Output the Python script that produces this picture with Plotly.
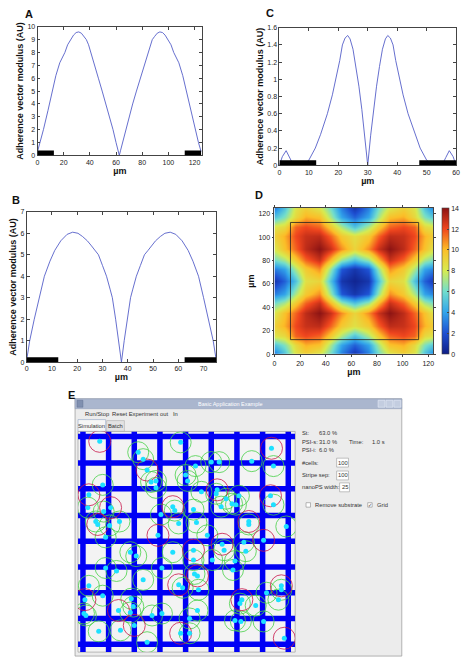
import plotly.graph_objects as go

W, H = 466, 665
def fx(x): return x / W
def fy(y): return 1 - y / H

FONT = "Liberation Sans, Arial, sans-serif"
GUI = "Liberation Sans, Arial, sans-serif"
LINE = "rgb(85,95,200)"

# ---------------- Panel A ----------------
A_x = [0, 2, 4.5, 8, 11.3, 14, 17, 20.9, 23, 25.2, 27.5, 29.5, 31.5, 33.5, 35.5, 37.3, 39, 40.6, 43.6, 46.5,
       49.4, 52.3, 55, 57.7, 60, 61.5, 62.5,
       63.5, 65, 67.3, 70, 72.7, 75.6, 78.5, 81.4, 84.4, 86, 87.7, 89.5, 91.5, 93.5, 95.5, 97.5, 99.8, 102,
       104.1, 108, 111, 113.7, 117, 120.5, 123, 125]
A_y = [0.3, 1.0, 2, 3.5, 5, 6.2, 7.2, 8, 8.6, 9, 9.35, 9.55, 9.6, 9.5, 9.25, 9, 8.6, 8, 7, 6,
       5, 4, 3, 2, 1, 0.4, 0,
       0.4, 1, 2, 3, 4, 5, 6, 7, 8, 8.6, 9, 9.25, 9.5, 9.6, 9.55, 9.35, 9, 8.6,
       8, 7.2, 6.2, 5, 3.5, 2, 1.0, 0.3]
A_stripes = [[0, 12.5], [112.5, 125]]

# ---------------- Panel B ----------------
B_x = [0, 1.2, 3, 5, 7, 9.2, 11.1, 13.5, 16, 18.2, 20.3, 22.1, 24, 25.4, 27, 28.4, 30, 31.6, 33, 33.9,
       35.2, 36.4, 37.5,
       38.6, 39.8, 41.1, 42, 43.4, 45, 46.6, 48, 49.6, 51, 52.9, 54.7, 56.8, 59, 61.5, 63.9, 65.8, 68,
       70, 72, 73.8, 75]
B_y = [0.1, 1, 2, 3, 4, 4.7, 5.2, 5.65, 5.95, 6.05, 6.0, 5.85, 5.65, 5.45, 5.2, 5.0, 4.5, 4.0, 3.4, 3.0,
       2.0, 1.0, 0,
       1.0, 2.0, 3.0, 3.4, 4.0, 4.5, 5.0, 5.2, 5.45, 5.65, 5.85, 6.0, 6.05, 5.95, 5.65, 5.2, 4.7, 4,
       3, 2, 1, 0.1]
B_stripes = [[0, 12.5], [62.5, 75]]

# ---------------- Panel C ----------------
C_x = [0, 1, 2.3, 3.5, 4.5, 6, 8, 10, 12.2, 14, 16.3, 18, 19.2, 20.5, 21.4, 22.3, 23.2, 24, 25, 26, 27,
       28, 29, 30,
       31, 32, 33, 34, 35, 36, 36.8, 37.7, 38.6, 39.5, 40.8, 42, 43.7, 46, 47.8, 50, 52, 54, 55.5, 56.5,
       57.7, 59, 60]
C_y = [0, 0.1, 0.17, 0.09, 0.02, 0, 0, 0.06, 0.2, 0.36, 0.6, 0.82, 1.0, 1.22, 1.4, 1.48, 1.51, 1.47,
       1.35, 1.15, 0.92, 0.65, 0.35, 0,
       0.35, 0.65, 0.92, 1.15, 1.35, 1.47, 1.51, 1.48, 1.4, 1.22, 1.0, 0.82, 0.6, 0.36, 0.2, 0.06, 0, 0,
       0.02, 0.09, 0.17, 0.1, 0]
C_stripes = [[0, 12.5], [47.5, 60]]

# ---------------- Panel D ----------------
D_x = [0, 8, 16, 24, 35, 44, 52, 62.5, 73, 81, 90, 101, 109, 117, 125]
D_y = [0, 8, 16, 24, 35, 44, 52, 62.5, 73, 81, 90, 101, 109, 117, 125]
D_z = [
    [3.0, 5.0, 8.3, 9.2, 8.2, 6.0, 3.1, 1.0, 3.1, 6.0, 8.2, 9.2, 8.3, 5.0, 3.0],
    [5.0, 6.3, 8.8, 10.2, 9.8, 7.1, 4.0, 2.4, 4.0, 7.1, 9.8, 10.2, 8.8, 6.3, 5.0],
    [8.3, 8.8, 11.5, 12.0, 11.5, 9.5, 7.2, 5.0, 7.2, 9.5, 11.5, 12.0, 11.5, 8.8, 8.3],
    [9.2, 10.2, 12.0, 12.8, 13.0, 11.5, 9.5, 8.5, 9.5, 11.5, 13.0, 12.8, 12.0, 10.2, 9.2],
    [8.2, 9.8, 11.5, 13.0, 14.0, 12.8, 10.8, 9.0, 10.8, 12.8, 14.0, 13.0, 11.5, 9.8, 8.2],
    [6.0, 7.1, 9.5, 11.5, 12.8, 10.0, 6.8, 5.0, 6.8, 10.0, 12.8, 11.5, 9.5, 7.1, 6.0],
    [3.1, 4.0, 7.2, 9.5, 10.8, 6.8, 2.2, 1.0, 2.2, 6.8, 10.8, 9.5, 7.2, 4.0, 3.1],
    [1.0, 2.4, 5.0, 8.5, 9.0, 5.0, 1.0, 0.3, 1.0, 5.0, 9.0, 8.5, 5.0, 2.4, 1.0],
    [3.1, 4.0, 7.2, 9.5, 10.8, 6.8, 2.2, 1.0, 2.2, 6.8, 10.8, 9.5, 7.2, 4.0, 3.1],
    [6.0, 7.1, 9.5, 11.5, 12.8, 10.0, 6.8, 5.0, 6.8, 10.0, 12.8, 11.5, 9.5, 7.1, 6.0],
    [8.2, 9.8, 11.5, 13.0, 14.0, 12.8, 10.8, 9.0, 10.8, 12.8, 14.0, 13.0, 11.5, 9.8, 8.2],
    [9.2, 10.2, 12.0, 12.8, 13.0, 11.5, 9.5, 8.5, 9.5, 11.5, 13.0, 12.8, 12.0, 10.2, 9.2],
    [8.3, 8.8, 11.5, 12.0, 11.5, 9.5, 7.2, 5.0, 7.2, 9.5, 11.5, 12.0, 11.5, 8.8, 8.3],
    [5.0, 6.3, 8.8, 10.2, 9.8, 7.1, 4.0, 2.4, 4.0, 7.1, 9.8, 10.2, 8.8, 6.3, 5.0],
    [3.0, 5.0, 8.3, 9.2, 8.2, 6.0, 3.1, 1.0, 3.1, 6.0, 8.2, 9.2, 8.3, 5.0, 3.0],
]
D_box = [12.5, 112.5]
D_cbar_ticks = [0, 2, 4, 6, 8, 10, 12, 14]
JET = [[0, "rgb(15,30,135)"], [0.143, "rgb(30,80,210)"], [0.286, "rgb(50,165,235)"],
       [0.43, "rgb(115,222,205)"], [0.571, "rgb(215,235,80)"], [0.714, "rgb(252,190,40)"],
       [0.857, "rgb(240,70,30)"], [1, "rgb(140,20,20)"]]

# ---------------- Panel E (screenshot coordinates) ----------------
E_vlines = [82, 108, 134, 160, 186, 212, 238, 264, 290]
E_hlines = [437, 464, 490, 517, 543, 569, 595, 621, 647]
E_cell_x = [99, 181, 138, 143, 253, 212, 220, 196, 147, 186, 188, 102, 151, 156, 156, 202, 218, 217, 240, 88,
            227, 233, 237, 222, 87, 110, 173, 175, 194, 103, 161, 95, 97, 109, 119, 179, 197, 250, 250, 158,
            208, 105, 273, 275, 272, 275, 288, 265, 245, 223, 225, 247, 130, 136, 173, 194, 194, 213, 236, 234,
            105, 116, 162, 195, 198, 143, 88, 179, 183, 199, 283, 283, 268, 102, 84, 131, 243, 280, 241, 257,
            133, 118, 130, 198, 162, 152, 83, 85, 190, 236, 242, 265, 134, 120, 98, 181, 190, 286, 147]
E_cell_y = [442, 443, 453, 460, 462, 463, 463, 467, 471, 476, 482, 486, 483, 482, 489, 493, 491, 495, 497, 496,
            500, 505, 506, 508, 509, 509, 508, 512, 511, 513, 516, 523, 526, 527, 523, 525, 524, 523, 526, 537,
            537, 539, 449, 467, 497, 506, 528, 542, 544, 546, 552, 553, 554, 558, 554, 552, 562, 562, 563, 572,
            570, 573, 570, 576, 578, 582, 588, 587, 590, 592, 588, 592, 595, 598, 602, 601, 602, 602, 606, 608,
            609, 613, 615, 613, 616, 618, 616, 618, 621, 623, 624, 624, 628, 633, 634, 636, 636, 641, 645]
E_ring = ["r", "g", "g", "g", "g", "g", "g", "g", "r", "g", "g", "g", "g", "g", "g", "g", "r", "g", "g", "r",
          "g", "g", "g", "g", "g", "r", "r", "g", "g", "g", "g", "g", "r", "g", "g", "g", "g", "r", "g", "r",
          "g", "g", "r", "g", "r", "g", "g", "r", "g", "r", "g", "g", "g", "g", "g", "r", "g", "g", "g", "g",
          "g", "g", "g", "g", "r", "g", "g", "r", "g", "g", "r", "g", "g", "g", "r", "g", "r", "g", "g", "g",
          "g", "r", "g", "g", "g", "g", "g", "g", "g", "g", "g", "g", "r", "g", "g", "r", "g", "r", "g"]
E_stats = [("St:", "63.0 %"), ("PSI-s:", "31.0 %"), ("PSI-i:", "6.0 %")]
E_fields = [("#cells:", "100"), ("Stripe sep:", "100"), ("nanoPS width:", "25")]
E_menu = ["Run/Stop", "Reset Experiment", "out", "In"]

fig = go.Figure()

def curve(x, y, xa, ya):
    fig.add_trace(go.Scatter(x=x, y=y, mode="lines", line=dict(color=LINE, width=0.9),
                             xaxis=xa, yaxis=ya, showlegend=False, hoverinfo="skip"))

curve(A_x, A_y, "x", "y")
curve(B_x, B_y, "x2", "y2")
curve(C_x, C_y, "x3", "y3")

fig.add_trace(go.Heatmap(
    x=D_x, y=D_y, z=D_z, colorscale=JET, zmin=0, zmax=14, zsmooth="best",
    xaxis="x4", yaxis="y4", hoverinfo="skip",
    colorbar=dict(x=fx(446), xanchor="left", y=fy(354), yanchor="bottom", len=148 / H, lenmode="fraction",
                  thickness=7, thicknessmode="pixels", outlinewidth=0.6, outlinecolor="#444",
                  tickvals=D_cbar_ticks, ticks="inside", ticklen=2, tickcolor="#444",
                  tickfont=dict(size=7, color="#222", family=FONT), xpad=0, ypad=0)))

# Panel E grid stripes
vx, vy, hx, hy = [], [], [], []
for v in E_vlines:
    vx += [v, v, None]; vy += [432, 655, None]
for h in E_hlines:
    hx += [77, 297, None]; hy += [h, h, None]
fig.add_trace(go.Scatter(x=vx + hx, y=vy + hy, mode="lines", line=dict(color="#0000f5", width=5.5),
                         xaxis="x5", yaxis="y5", showlegend=False, hoverinfo="skip"))
gx = [x for x, r in zip(E_cell_x, E_ring) if r == "g"]
gy = [y for y, r in zip(E_cell_y, E_ring) if r == "g"]
rx = [x for x, r in zip(E_cell_x, E_ring) if r == "r"]
ry = [y for y, r in zip(E_cell_y, E_ring) if r == "r"]
fig.add_trace(go.Scatter(x=gx, y=gy, mode="markers", xaxis="x5", yaxis="y5", showlegend=False, hoverinfo="skip",
                         marker=dict(symbol="circle-open", size=21, color="#48d048", line=dict(width=0.8))))
fig.add_trace(go.Scatter(x=rx, y=ry, mode="markers", xaxis="x5", yaxis="y5", showlegend=False, hoverinfo="skip",
                         marker=dict(symbol="circle-open", size=22, color="#c8164a", line=dict(width=0.8))))
fig.add_trace(go.Scatter(x=E_cell_x, y=E_cell_y, mode="markers", xaxis="x5", yaxis="y5", showlegend=False,
                         hoverinfo="skip", marker=dict(symbol="circle", size=5, color="#1ee0ff")))

tickfont = dict(size=7, color="#222", family=FONT)
titlefont = dict(size=9, color="#111", family=FONT)

def ax(domain, rng, dtick, title=None, standoff=2, ticks="inside", **kw):
    d = dict(domain=domain, range=rng, dtick=dtick, tick0=0, showline=True, linecolor="#444", linewidth=0.8,
             mirror="ticks", ticks=ticks, ticklen=3, tickwidth=0.6, tickcolor="#444", tickfont=tickfont,
             showgrid=False, zeroline=False, fixedrange=True)
    if title:
        d["title"] = dict(text=title, font=titlefont, standoff=standoff)
    d.update(kw)
    return d

YT = "<b>Adherence vector modulus (AU)</b>"
XT = "<b>µm</b>"

layout = dict(
    width=W, height=H, margin=dict(l=0, r=0, t=0, b=0), paper_bgcolor="white", plot_bgcolor="rgba(0,0,0,0)",
    showlegend=False,
    xaxis=ax([fx(36), fx(203)], [0, 126], 20, XT, anchor="y"),
    yaxis=ax([fy(153), fy(23)], [0, 10], 1, YT, anchor="x"),
    xaxis2=ax([fx(25), fx(217)], [0, 75], 10, XT, anchor="y2"),
    yaxis2=ax([fy(362), fy(210)], [0, 7], 1, YT, anchor="x2"),
    xaxis3=ax([fx(281), fx(460)], [0, 60], 10, XT, anchor="y3"),
    yaxis3=ax([fy(163), fy(24)], [0, 1.6], 0.2, YT, anchor="x3"),
    xaxis4=ax([fx(276), fx(437)], [0, 124], 20, XT, anchor="y4", ticks="outside", ticklen=2),
    yaxis4=ax([fy(354), fy(206)], [0, 125], 20, XT, anchor="x4", ticks="outside", ticklen=2),
    xaxis5=dict(domain=[fx(77), fx(297)], range=[77, 297], visible=False, anchor="y5", fixedrange=True),
    yaxis5=dict(domain=[fy(655), fy(432)], range=[655, 432], visible=False, anchor="x5", fixedrange=True),
)

shapes = []
def stripes(lst, xr, yr):
    for a, b in lst:
        shapes.append(dict(type="rect", xref=xr, yref=yr, x0=a, x1=b, ysizemode="pixel", yanchor=0, y0=0, y1=5,
                           fillcolor="black", line=dict(width=0)))
stripes(A_stripes, "x", "y")
stripes(B_stripes, "x2", "y2")
stripes(C_stripes, "x3", "y3")
shapes.append(dict(type="rect", xref="x4", yref="y4", x0=D_box[0], x1=D_box[1], y0=D_box[0], y1=D_box[1],
                   line=dict(color="#222", width=0.8)))

def prect(x0, y0, x1, y1, fill, lc=None, lw=0, layer="below"):
    shapes.append(dict(type="rect", xref="paper", yref="paper", x0=fx(x0), x1=fx(x1), y0=fy(y1), y1=fy(y0),
                       fillcolor=fill, line=dict(color=lc or fill, width=lw), layer=layer))

# window chrome
prect(74, 399, 405, 659, "#ececec", "#a0a0a0", 0.8)
prect(74, 399, 405, 409, "#aab6ce", "#8f9db8", 0.5)
for bx in (381, 389, 397):
    prect(bx, 400.5, bx + 7, 407.5, "#c3cde0", "#e8eef8", 0.6)
prect(76, 400.5, 82, 407.5, "#8090b0", "#5a6a8a", 0.4)
prect(77, 420, 105, 432, "#f6f6f6", "#9fb0cc", 0.7)
prect(106, 421, 124, 432, "#e2e2e2", "#b0b0b0", 0.6)
prect(77, 432, 297, 655, "#f3f3f3", "#a8a8a8", 0.8)
prect(339, 459, 351, 468, "white", "#9a9a9a", 0.6)
prect(339, 472, 351, 481, "white", "#9a9a9a", 0.6)
prect(342, 484, 352, 493, "white", "#9a9a9a", 0.6)
prect(308, 504, 312.5, 508.5, "white", "#8a8a8a", 0.6)
prect(370.5, 504, 375, 508.5, "white", "#8a8a8a", 0.6)
layout["shapes"] = shapes

ann = []
def text(t, x, y, size=6, color="#333", anchor="left", family=GUI, bold=False):
    ann.append(dict(text=("<b>%s</b>" % t) if bold else t, x=fx(x), y=fy(y), xref="paper", yref="paper",
                    xanchor=anchor, yanchor="middle", showarrow=False,
                    font=dict(size=size, color=color, family=family)))

for lab, x, y in [("A", 27, 10), ("C", 272, 9), ("B", 14, 198), ("D", 260, 193), ("E", 70, 395)]:
    text(lab, x, y, size=11, color="#111", anchor="center", family=FONT, bold=True)

GS = 5.8
text("Basic Application Example", 231, 404.5, size=5.5, color="white", anchor="center")
for t, x in zip(E_menu, [82, 109, 158, 171]):
    text(t, x, 414.5, size=GS)
text("Simulation", 91, 426.5, size=GS, anchor="center")
text("Batch", 115, 426.5, size=GS, anchor="center")
for (k, v), y in zip(E_stats, [434, 443, 451]):
    text(k, 302, y, size=GS)
    text(v, 319, y, size=GS)
text("Time:", 350, 443, size=GS)
text("1.0 s", 373, 443, size=GS)
for (k, v), y, cx in zip(E_fields, [463.5, 476.5, 488.5], [345, 345, 347]):
    text(k, 302, y, size=GS)
    text(v, cx, y, size=GS, anchor="center")
text("Remove substrate", 315, 506, size=GS)
text("✓", 372.8, 506, size=5, anchor="center")
text("Grid", 378, 506, size=GS)
layout["annotations"] = ann

fig.update_layout(**layout)
fig.write_html("out.html")
